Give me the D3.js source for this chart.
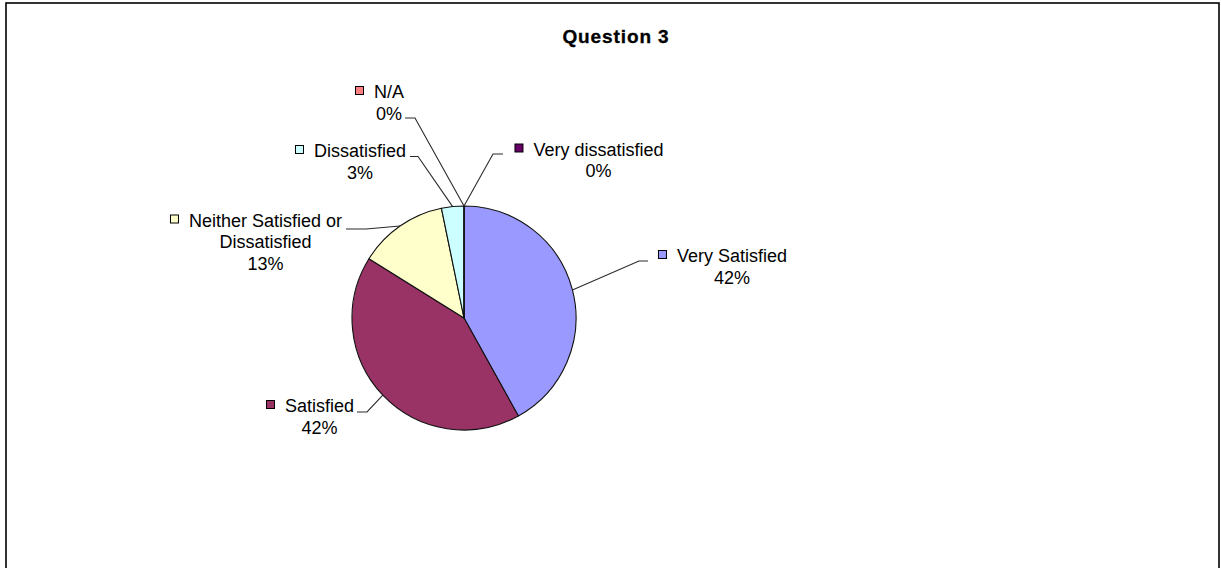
<!DOCTYPE html>
<html>
<head>
<meta charset="utf-8">
<script src="https://cdn.jsdelivr.net/npm/d3@7"></script>
<style>
  html, body { margin: 0; padding: 0; background: #fff; }
  svg { display: block; font-family: "Liberation Sans", Arial, sans-serif; }
</style>
</head>
<body>
<svg id="chart" width="1221" height="568"></svg>
<script>
// Survey responses for Question 3
const categories = ["Very Satisfied", "Satisfied", "Neither Satisfied or Dissatisfied", "Dissatisfied", "N/A", "Very dissatisfied"];
const counts = [13, 13, 4, 1, 0, 0];
const palette = ["#9999FF", "#993366", "#FFFFCC", "#CCFFFF", "#FF8080", "#660066"];
const title = "Question 3";

// Label placement: centre x, first baseline, line breaks, leader start and elbow
const labelLayout = {
  "Very Satisfied":                   { cx: 732,   y: 262,   lines: ["Very Satisfied"], start: [648, 261], elbow: [639, 261] },
  "Satisfied":                        { cx: 319.5, y: 412,   lines: ["Satisfied"], start: [357, 412], elbow: [367, 412] },
  "Neither Satisfied or Dissatisfied":{ cx: 265.5, y: 226.5, lines: ["Neither Satisfied or", "Dissatisfied"], start: [346, 229], elbow: [366, 229] },
  "Dissatisfied":                     { cx: 360,   y: 157,   lines: ["Dissatisfied"], start: [410, 156.5], elbow: [418, 156.5] },
  "N/A":                              { cx: 389,   y: 98,    lines: ["N/A"], start: [405, 118], elbow: [415, 118] },
  "Very dissatisfied":                { cx: 598.5, y: 155.5, lines: ["Very dissatisfied"], start: [503, 154], elbow: [493, 154] }
};

const svg = d3.select("#chart");
const W = 1221, H = 568;

// Chart frame
svg.append("rect")
  .attr("x", 6).attr("y", 3)
  .attr("width", 1213).attr("height", H + 20)
  .attr("fill", "#fff")
  .attr("stroke", "#000")
  .attr("stroke-width", 1.6);

// Title
svg.append("text")
  .attr("x", 616).attr("y", 43)
  .attr("text-anchor", "middle")
  .attr("font-size", 19)
  .attr("font-weight", "bold")
  .attr("letter-spacing", 0.9)
  .attr("fill", "#000")
  .attr("stroke", "#000")
  .attr("stroke-width", 0.3)
  .text(title);

const cx = 464, cy = 318, r = 112;
const total = d3.sum(counts);
const data = categories.map((c, i) => ({ name: c, value: counts[i], color: palette[i] }));

const pie = d3.pie().sort(null).value(d => d.value).startAngle(0).endAngle(2 * Math.PI);
const arcs = pie(data);
const arc = d3.arc().innerRadius(0).outerRadius(r);

const g = svg.append("g").attr("transform", `translate(${cx},${cy})`);
g.selectAll("path.slice")
  .data(arcs)
  .join("path")
  .attr("class", "slice")
  .attr("d", arc)
  .attr("fill", d => d.data.color)
  .attr("stroke", "#111")
  .attr("stroke-width", 1.1)
  .attr("stroke-linejoin", "round");

// Leader lines and labels
const fontSize = 18, lineH = 21.5;
const fmt = v => Math.round(v / total * 100) + "%";

arcs.forEach(a => {
  const L = labelLayout[a.data.name];
  const mid = (a.startAngle + a.endAngle) / 2;
  const ex = cx + r * Math.sin(mid), ey = cy - r * Math.cos(mid);

  svg.append("polyline")
    .attr("points", [L.start, L.elbow, [ex, ey]].map(p => p.join(",")).join(" "))
    .attr("fill", "none")
    .attr("stroke", "#2a2a2a")
    .attr("stroke-width", 1.1);

  const lines = L.lines.concat([fmt(a.data.value)]);
  const t = svg.append("text")
    .attr("text-anchor", "middle")
    .attr("font-size", fontSize)
    .attr("fill", "#000");
  lines.forEach((ln, i) => {
    t.append("tspan").attr("x", L.cx).attr("y", L.y + i * lineH).text(ln);
  });

  // colour key square before the first line
  const first = t.select("tspan").node();
  const w = first.getComputedTextLength();
  const left = L.cx - w / 2;
  svg.append("rect")
    .attr("x", left - 18.5).attr("y", L.y - 11.5)
    .attr("width", 8).attr("height", 8)
    .attr("fill", a.data.color)
    .attr("stroke", "#000")
    .attr("stroke-width", 1);
});
</script>
</body>
</html>
